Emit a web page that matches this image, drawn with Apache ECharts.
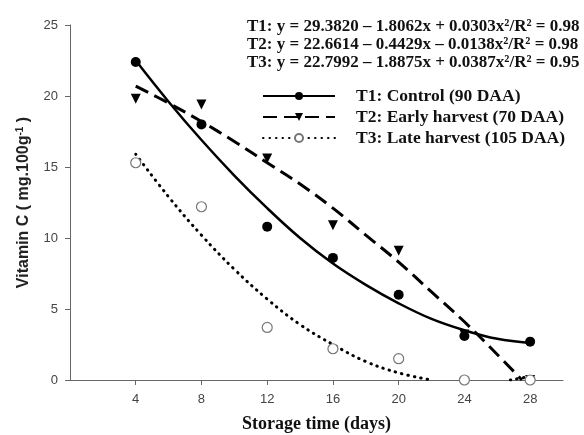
<!DOCTYPE html>
<html>
<head>
<meta charset="utf-8">
<script src="https://cdn.jsdelivr.net/npm/echarts@6/dist/echarts.min.js"></script>
<style>
html,body{margin:0;padding:0;background:#fff;}
#chart{width:584px;height:435px;}
</style>
</head>
<body>
<div id="chart"></div>
<script>
// Observed data (storage day -> vitamin C)
var days = [4, 8, 12, 16, 20, 24, 28];
var t1Values = [22.4, 18.0, 10.8, 8.6, 6.0, 3.1, 2.7];
var t2Values = [19.8, 19.4, 15.6, 10.9, 9.1, 3.2, 0.0];
var t3Values = [15.3, 12.2, 3.7, 2.2, 1.5, 0.0, 0.0];

// Fitted curves
var fitX = [4, 6, 8, 10, 12, 14, 16, 18, 20, 22, 24, 26, 28];
var t1Fit = [22.5, 19.6, 16.9, 14.4, 12.1, 10.0, 8.2, 6.7, 5.4, 4.3, 3.5, 2.9, 2.6];
var t2FitX = [4, 6, 8, 10, 12, 14, 16, 18, 20, 22, 24, 26, 27.5];
var t2Fit = [20.7, 19.5, 18.2, 16.8, 15.3, 13.8, 12.1, 10.2, 8.3, 6.2, 4.1, 1.8, 0.0];
var t3FitX = [4, 6, 8, 10, 12, 14, 16, 18, 20, 22, 24, 26.8, 28];
var t3Fit = [15.9, 12.9, 10.2, 7.8, 5.7, 3.9, 2.5, 1.3, 0.5, 0.0, null, 0.0, 0.25];

var xTicks = [4, 8, 12, 16, 20, 24, 28];
var seriesNames = ['T1: Control (90 DAA)', 'T2: Early harvest (70 DAA)', 'T3: Late harvest (105 DAA)'];
var equations = [
  'T1: y = 29.3820 \u2013 1.8062x + 0.0303x\u00b2/R\u00b2 = 0.98',
  'T2: y = 22.6614 \u2013 0.4429x \u2013 0.0138x\u00b2/R\u00b2 = 0.98',
  'T3: y = 22.7992 \u2013 1.8875x + 0.0387x\u00b2/R\u00b2 = 0.95'
];

function pairs(xs, ys) { return xs.map(function (x, i) { return [x, ys[i]]; }); }

var serif = '"Liberation Serif", "DejaVu Serif", serif';
var sans = '"Liberation Sans", Arial, sans-serif';

var chart = echarts.init(document.getElementById('chart'), null, {renderer: 'canvas'});
chart.setOption({
  backgroundColor: '#fff',
  animation: false,
  grid: {left: 70, right: 21, top: 25, bottom: 55, containLabel: false, outerBoundsMode: 'none'},
  legend: {
    data: seriesNames,
    orient: 'vertical',
    left: 262,
    top: 87,
    padding: 0,
    itemWidth: 72,
    itemHeight: 10,
    itemGap: 3,
    textStyle: {fontFamily: serif, fontWeight: 'bold', fontSize: 17.5, color: '#111', padding: [0, 0, 0, 16]},
    selectedMode: false
  },
  graphic: equations.map(function (t, i) {
    return {
      type: 'text', left: 247, top: 18 + i * 18,
      style: {text: t, font: 'bold 17px ' + serif, fill: '#111'}
    };
  }),
  xAxis: {
    type: 'value', min: 0, max: 30, interval: 4,
    name: 'Storage time (days)', nameLocation: 'middle', nameGap: 35,
    nameTextStyle: {fontFamily: serif, fontWeight: 'bold', fontSize: 18, color: '#111'},
    axisLine: {show: true, lineStyle: {color: '#666', width: 1}},
    axisTick: {show: true, length: 5, lineStyle: {color: '#666'}, customValues: xTicks},
    axisLabel: {customValues: xTicks, fontFamily: sans, fontSize: 13, color: '#444', margin: 13},
    splitLine: {show: false}
  },
  yAxis: {
    type: 'value', min: 0, max: 25, interval: 5,
    name: '{a|Vitamin C ( mg.100g}{s|-1}{a| )}', nameLocation: 'middle', nameGap: 37,
    nameTextStyle: {
      rich: {
        a: {fontFamily: sans, fontWeight: 'bold', fontSize: 16, color: '#222'},
        s: {fontFamily: sans, fontWeight: 'bold', fontSize: 10, color: '#222', verticalAlign: 'top', padding: [0, 0, 8, 0]}
      }
    },
    axisLine: {show: true, lineStyle: {color: '#666', width: 1}},
    axisTick: {show: true, length: 5, lineStyle: {color: '#666'}},
    axisLabel: {fontFamily: sans, fontSize: 13, color: '#444', margin: 12},
    splitLine: {show: false}
  },
  series: [
    {
      name: seriesNames[0], type: 'line', data: pairs(fitX, t1Fit), smooth: 0.4,
      symbol: 'circle', symbolSize: 9, showSymbol: false, z: 2,
      itemStyle: {color: '#000'}, lineStyle: {color: '#000', width: 2.5, type: 'solid'}
    },
    {
      name: seriesNames[1], type: 'line', data: pairs(t2FitX, t2Fit), smooth: 0.4,
      symbol: 'triangle', symbolRotate: 180, symbolSize: 9, showSymbol: false, z: 2,
      itemStyle: {color: '#000'}, lineStyle: {color: '#000', width: 3, type: [14, 7]}
    },
    {
      name: seriesNames[2], type: 'line', data: pairs(t3FitX, t3Fit), smooth: 0.4,
      symbol: 'circle', symbolSize: 9, showSymbol: false, connectNulls: false, z: 2,
      itemStyle: {color: '#fff', borderColor: '#777', borderWidth: 1.2},
      lineStyle: {color: '#000', width: 3, type: [0.5, 6], cap: 'round'}
    },
    {
      name: 'T1 obs', type: 'scatter', data: pairs(days, t1Values),
      symbol: 'circle', symbolSize: 10, z: 3, itemStyle: {color: '#000', opacity: 1}
    },
    {
      name: 'T2 obs', type: 'scatter', data: pairs(days, t2Values),
      symbol: 'triangle', symbolRotate: 180, symbolSize: 10, z: 3, itemStyle: {color: '#000', opacity: 1}
    },
    {
      name: 'T3 obs', type: 'scatter', data: pairs(days, t3Values),
      symbol: 'circle', symbolSize: 10, z: 3,
      itemStyle: {color: '#fff', borderColor: '#777', borderWidth: 1.2, opacity: 1}
    }
  ]
});
</script>
</body>
</html>
